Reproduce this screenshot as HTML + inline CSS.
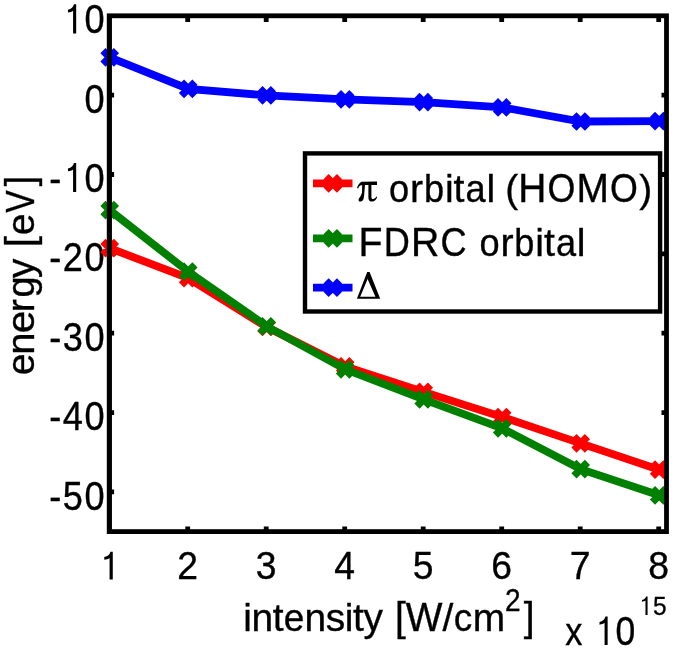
<!DOCTYPE html>
<html><head><meta charset="utf-8"><style>
html,body{margin:0;padding:0;background:#fff;}
svg{display:block;will-change:transform;}
text{font-family:"Liberation Sans",sans-serif;font-size:39.3px;fill:#000;font-kerning:none;stroke:#000;stroke-width:0.35px;}
text.s{font-family:"Liberation Serif",serif;}
</style></head><body>
<svg width="675" height="650" viewBox="0 0 675 650">
<rect width="675" height="650" fill="#fff"/>
<path d="M187.70 531.6V526.50M187.70 15.8V22.10M266.20 531.6V526.50M266.20 15.8V22.10M344.70 531.6V526.50M344.70 15.8V22.10M423.20 531.6V526.50M423.20 15.8V22.10M501.70 531.6V526.50M501.70 15.8V22.10M580.20 531.6V526.50M580.20 15.8V22.10M658.70 531.6V526.50M658.70 15.8V22.10M109.2 95.15H114.10M666.5 95.15H661.50M109.2 174.51H114.10M666.5 174.51H661.50M109.2 253.86H114.10M666.5 253.86H661.50M109.2 333.22H114.10M666.5 333.22H661.50M109.2 412.57H114.10M666.5 412.57H661.50M109.2 491.92H114.10M666.5 491.92H661.50" stroke="#000" stroke-width="4.8" fill="none"/>
<g transform="translate(72.71,33.40) scale(0.92,1.05) translate(-72.71,-33.40)"><path transform="translate(61.79,33.40) scale(39.30)" d="M0.288 0L0.374 0L0.374 -0.704L0.312 -0.704C0.292 -0.635 0.24 -0.585 0.146 -0.572L0.146 -0.505C0.2 -0.51 0.255 -0.525 0.288 -0.55Z"/></g><text x="83.64" y="33.40" transform="translate(94.57,33.40) scale(0.92,1.05) translate(-94.57,-33.40)">0</text>
<text x="83.64" y="112.75" transform="translate(94.57,112.75) scale(0.92,1.05) translate(-94.57,-112.75)">0</text>
<text x="48.70" y="192.11" transform="translate(55.24,192.11) scale(0.92,1.05) translate(-55.24,-192.11)">-</text><g transform="translate(72.71,192.11) scale(0.92,1.05) translate(-72.71,-192.11)"><path transform="translate(61.79,192.11) scale(39.30)" d="M0.288 0L0.374 0L0.374 -0.704L0.312 -0.704C0.292 -0.635 0.24 -0.585 0.146 -0.572L0.146 -0.505C0.2 -0.51 0.255 -0.525 0.288 -0.55Z"/></g><text x="83.64" y="192.11" transform="translate(94.57,192.11) scale(0.92,1.05) translate(-94.57,-192.11)">0</text>
<text x="48.70" y="271.46" transform="translate(55.24,271.46) scale(0.92,1.05) translate(-55.24,-271.46)">-</text><text x="61.79" y="271.46" transform="translate(72.71,271.46) scale(0.92,1.05) translate(-72.71,-271.46)">2</text><text x="83.64" y="271.46" transform="translate(94.57,271.46) scale(0.92,1.05) translate(-94.57,-271.46)">0</text>
<text x="48.70" y="350.82" transform="translate(55.24,350.82) scale(0.92,1.05) translate(-55.24,-350.82)">-</text><text x="61.79" y="350.82" transform="translate(72.71,350.82) scale(0.92,1.05) translate(-72.71,-350.82)">3</text><text x="83.64" y="350.82" transform="translate(94.57,350.82) scale(0.92,1.05) translate(-94.57,-350.82)">0</text>
<text x="48.70" y="430.17" transform="translate(55.24,430.17) scale(0.92,1.05) translate(-55.24,-430.17)">-</text><text x="61.79" y="430.17" transform="translate(72.71,430.17) scale(0.92,1.05) translate(-72.71,-430.17)">4</text><text x="83.64" y="430.17" transform="translate(94.57,430.17) scale(0.92,1.05) translate(-94.57,-430.17)">0</text>
<text x="48.70" y="509.52" transform="translate(55.24,509.52) scale(0.92,1.05) translate(-55.24,-509.52)">-</text><text x="61.79" y="509.52" transform="translate(72.71,509.52) scale(0.92,1.05) translate(-72.71,-509.52)">5</text><text x="83.64" y="509.52" transform="translate(94.57,509.52) scale(0.92,1.05) translate(-94.57,-509.52)">0</text>
<g transform="translate(109.20,579.50) scale(0.95,1.0) translate(-109.20,-579.50)"><path transform="translate(98.27,579.50) scale(39.30)" d="M0.288 0L0.374 0L0.374 -0.704L0.312 -0.704C0.292 -0.635 0.24 -0.585 0.146 -0.572L0.146 -0.505C0.2 -0.51 0.255 -0.525 0.288 -0.55Z"/></g>
<text x="176.77" y="579.50" transform="translate(187.70,579.50) scale(0.95,1.0) translate(-187.70,-579.50)">2</text>
<text x="255.27" y="579.50" transform="translate(266.20,579.50) scale(0.95,1.0) translate(-266.20,-579.50)">3</text>
<text x="333.77" y="579.50" transform="translate(344.70,579.50) scale(0.95,1.0) translate(-344.70,-579.50)">4</text>
<text x="412.27" y="579.50" transform="translate(423.20,579.50) scale(0.95,1.0) translate(-423.20,-579.50)">5</text>
<text x="490.77" y="579.50" transform="translate(501.70,579.50) scale(0.95,1.0) translate(-501.70,-579.50)">6</text>
<text x="569.27" y="579.50" transform="translate(580.20,579.50) scale(0.95,1.0) translate(-580.20,-579.50)">7</text>
<text x="647.77" y="579.50" transform="translate(658.70,579.50) scale(0.95,1.0) translate(-658.70,-579.50)">8</text>
<polyline points="109.70,248.20 188.20,278.10 266.70,327.00 345.20,366.40 423.70,391.90 502.20,417.00 580.70,443.40 659.20,469.70" fill="none" stroke="#ff0000" stroke-width="7.8" stroke-linejoin="miter"/>
<path d="M102.95 241.45L116.45 254.95M116.45 241.45L102.95 254.95M181.45 271.35L194.95 284.85M194.95 271.35L181.45 284.85M259.95 320.25L273.45 333.75M273.45 320.25L259.95 333.75M338.45 359.65L351.95 373.15M351.95 359.65L338.45 373.15M416.95 385.15L430.45 398.65M430.45 385.15L416.95 398.65M495.45 410.25L508.95 423.75M508.95 410.25L495.45 423.75M573.95 436.65L587.45 450.15M587.45 436.65L573.95 450.15M652.45 462.95L665.95 476.45M665.95 462.95L652.45 476.45" stroke="#ff0000" stroke-width="7.3" fill="none"/>
<polyline points="109.70,210.10 188.20,271.70 266.70,326.30 345.20,369.30 423.70,399.40 502.20,428.30 580.70,469.20 659.20,495.30" fill="none" stroke="#008000" stroke-width="7.8" stroke-linejoin="miter"/>
<path d="M102.95 203.35L116.45 216.85M116.45 203.35L102.95 216.85M181.45 264.95L194.95 278.45M194.95 264.95L181.45 278.45M259.95 319.55L273.45 333.05M273.45 319.55L259.95 333.05M338.45 362.55L351.95 376.05M351.95 362.55L338.45 376.05M416.95 392.65L430.45 406.15M430.45 392.65L416.95 406.15M495.45 421.55L508.95 435.05M508.95 421.55L495.45 435.05M573.95 462.45L587.45 475.95M587.45 462.45L573.95 475.95M652.45 488.55L665.95 502.05M665.95 488.55L652.45 502.05" stroke="#008000" stroke-width="7.3" fill="none"/>
<polyline points="109.70,57.30 188.20,88.90 266.70,95.40 345.20,99.40 423.70,102.20 502.20,107.35 580.70,121.50 659.20,121.20" fill="none" stroke="#0000ff" stroke-width="7.8" stroke-linejoin="miter"/>
<path d="M102.95 50.55L116.45 64.05M116.45 50.55L102.95 64.05M181.45 82.15L194.95 95.65M194.95 82.15L181.45 95.65M259.95 88.65L273.45 102.15M273.45 88.65L259.95 102.15M338.45 92.65L351.95 106.15M351.95 92.65L338.45 106.15M416.95 95.45L430.45 108.95M430.45 95.45L416.95 108.95M495.45 100.60L508.95 114.10M508.95 100.60L495.45 114.10M573.95 114.75L587.45 128.25M587.45 114.75L573.95 128.25M652.45 114.45L665.95 127.95M665.95 114.45L652.45 127.95" stroke="#0000ff" stroke-width="7.3" fill="none"/>
<rect x="109.2" y="15.8" width="557.3" height="515.8000000000001" fill="none" stroke="#000" stroke-width="4.8"/>
<line x1="109.45" y1="17.8" x2="109.45" y2="529.6" stroke="#000" stroke-width="4.8"/>
<text x="243.30" y="631.30" style="font-size:38.9px" transform="translate(247.62,631.30) scale(1.0,0.985) translate(-247.62,-631.30)">i</text><text x="251.56" y="631.30" style="font-size:38.9px" transform="translate(262.38,631.30) scale(1.0,0.985) translate(-262.38,-631.30)">n</text><text x="272.82" y="631.30" style="font-size:38.9px" transform="translate(278.22,631.30) scale(1.0,0.985) translate(-278.22,-631.30)">t</text><text x="283.24" y="631.30" style="font-size:38.9px" transform="translate(294.06,631.30) scale(0.95,0.985) translate(-294.06,-631.30)">e</text><text x="304.50" y="631.30" style="font-size:38.9px" transform="translate(315.32,631.30) scale(1.0,0.985) translate(-315.32,-631.30)">n</text><text x="325.75" y="631.30" style="font-size:38.9px" transform="translate(335.48,631.30) scale(1.0,0.985) translate(-335.48,-631.30)">s</text><text x="344.82" y="631.30" style="font-size:38.9px" transform="translate(349.14,631.30) scale(1.0,0.985) translate(-349.14,-631.30)">i</text><text x="353.09" y="631.30" style="font-size:38.9px" transform="translate(358.49,631.30) scale(1.0,0.985) translate(-358.49,-631.30)">t</text><text x="363.51" y="631.30" style="font-size:38.9px" transform="translate(373.24,631.30) scale(1.0,0.985) translate(-373.24,-631.30)">y</text>
<text x="395.00" y="631.30" style="font-size:38.9px" transform="translate(400.40,631.30) scale(1.0,1.0599999999999998) translate(-400.40,-631.30)">[</text><text x="405.81" y="631.30" style="font-size:38.9px" transform="translate(424.17,631.30) scale(1.0,1.045) translate(-424.17,-631.30)">W</text><text x="442.52" y="631.30" style="font-size:38.9px" transform="translate(447.93,631.30) scale(1.0,0.985) translate(-447.93,-631.30)">/</text><text x="453.33" y="631.30" style="font-size:38.9px" transform="translate(463.06,631.30) scale(0.95,0.985) translate(-463.06,-631.30)">c</text><text x="472.78" y="631.30" style="font-size:38.9px" transform="translate(488.98,631.30) scale(1.0,0.985) translate(-488.98,-631.30)">m</text>
<text x="504.7" y="611.3" style="font-size:29.5px" transform="translate(512.9,611.3) scale(0.95,1.04) translate(-512.9,-611.3)">2</text><text x="523.70" y="631.30" style="font-size:38.9px" transform="translate(529.10,631.30) scale(1.0,1.0599999999999998) translate(-529.10,-631.30)">]</text>
<g transform="translate(33.9,376.0) rotate(-90)"><text x="0" y="0" style="font-size:38.76px" transform="translate(0.64,0.00) scale(1.006,0.985)">e</text><text x="0" y="0" style="font-size:38.76px" transform="translate(21.24,0.00) scale(1.032,0.985)">n</text><text x="0" y="0" style="font-size:38.76px" transform="translate(42.67,0.00) scale(1.050,0.985)">e</text><text x="0" y="0" style="font-size:38.76px" transform="translate(63.80,0.00) scale(1.011,0.985)">r</text><text x="0" y="0" style="font-size:38.76px" transform="translate(78.50,0.00) scale(0.981,0.985)">g</text><text x="0" y="0" style="font-size:38.76px" transform="translate(98.01,0.00) scale(0.999,0.985)">y</text><text x="0" y="0" style="font-size:38.76px" transform="translate(129.04,0.00) scale(1.000,1.045)">[</text><text x="0" y="0" style="font-size:38.76px" transform="translate(140.64,0.00) scale(1.006,0.985)">e</text><text x="0" y="0" style="font-size:38.76px" transform="translate(163.35,0.00) scale(0.866,1.045)">V</text><text x="0" y="0" style="font-size:38.76px" transform="translate(189.72,0.00) scale(0.935,1.045)">]</text></g>
<text x="564.40" y="645.10" style="font-size:38.2px" transform="translate(573.95,645.10) scale(0.9,1.03) translate(-573.95,-645.10)">x</text>
<g transform="translate(604.22,645.10) scale(0.93,1.06) translate(-604.22,-645.10)"><path transform="translate(593.60,645.10) scale(38.20)" d="M0.288 0L0.374 0L0.374 -0.704L0.312 -0.704C0.292 -0.635 0.24 -0.585 0.146 -0.572L0.146 -0.505C0.2 -0.51 0.255 -0.525 0.288 -0.55Z"/></g><text x="614.85" y="645.10" style="font-size:38.2px" transform="translate(625.47,645.10) scale(0.93,1.06) translate(-625.47,-645.10)">0</text>
<g transform="translate(645.23,614.90) scale(0.94,1.0) translate(-645.23,-614.90)"><path transform="translate(638.00,614.90) scale(26.00)" d="M0.288 0L0.374 0L0.374 -0.704L0.312 -0.704C0.292 -0.635 0.24 -0.585 0.146 -0.572L0.146 -0.505C0.2 -0.51 0.255 -0.525 0.288 -0.55Z"/></g><text x="652.46" y="614.90" style="font-size:26px" transform="translate(659.69,614.90) scale(0.94,1.0) translate(-659.69,-614.90)">5</text>
<rect x="305" y="153.4" width="355.1" height="158.1" fill="#fff" stroke="#000" stroke-width="4.4"/>
<line x1="313" y1="183.3" x2="352.5" y2="183.3" stroke="#ff0000" stroke-width="7.8"/>
<path d="M326.05 176.55L339.55 190.05M339.55 176.55L326.05 190.05" stroke="#ff0000" stroke-width="7.3" fill="none"/>
<line x1="313" y1="238.4" x2="352.5" y2="238.4" stroke="#008000" stroke-width="7.8"/>
<path d="M326.05 231.65L339.55 245.15M339.55 231.65L326.05 245.15" stroke="#008000" stroke-width="7.3" fill="none"/>
<line x1="313" y1="287.7" x2="352.5" y2="287.7" stroke="#0000ff" stroke-width="7.8"/>
<path d="M326.05 280.95L339.55 294.45M339.55 280.95L326.05 294.45" stroke="#0000ff" stroke-width="7.3" fill="none"/>
<g transform="translate(0,1.4000000000000057)"><path d="M357.0 186.6C357.8 184.5 359.0 181.5 361.5 180.3L377.0 180.0L377.0 183.5L362.5 183.6C360.0 183.8 358.8 185.0 358.2 187.0ZM362.2 183.0L365.0 183.0L364.3 192.0C364.0 195.5 363.8 199.0 361.5 199.9C359.5 200.5 358.3 199.6 358.6 198.0C359.2 196.0 361.5 194.0 362.0 191.0ZM368.4 183L371.4 183L371.4 195.0C371.5 197.3 372.3 197.8 373.5 197.5C374.8 197.0 375.8 196.0 376.6 195.0L377.2 195.6C376.5 198.0 374.5 200.2 372.0 200.2C369.5 200.2 368.4 198.5 368.4 196.0Z"/></g><text x="388.10" y="201.60" transform="translate(399.03,201.60) scale(0.92,0.985) translate(-399.03,-201.60)">o</text><text x="409.96" y="201.60" transform="translate(416.50,201.60) scale(1.0,0.985) translate(-416.50,-201.60)">r</text><text x="423.04" y="201.60" transform="translate(433.97,201.60) scale(0.92,0.985) translate(-433.97,-201.60)">b</text><text x="444.90" y="201.60" transform="translate(449.27,201.60) scale(1.0,0.985) translate(-449.27,-201.60)">i</text><text x="453.63" y="201.60" transform="translate(459.09,201.60) scale(1.0,0.985) translate(-459.09,-201.60)">t</text><text x="464.55" y="201.60" transform="translate(475.48,201.60) scale(0.92,0.985) translate(-475.48,-201.60)">a</text><text x="486.41" y="201.60" transform="translate(490.77,201.60) scale(1.0,0.985) translate(-490.77,-201.60)">l</text>
<text x="505.20" y="201.60" style="font-size:38.9px" transform="translate(511.68,201.60) scale(1.0,0.985) translate(-511.68,-201.60)">(</text><text x="518.15" y="201.60" style="font-size:38.9px" transform="translate(532.20,201.60) scale(1.0,1.045) translate(-532.20,-201.60)">H</text><text x="546.25" y="201.60" style="font-size:38.9px" transform="translate(561.38,201.60) scale(0.92,1.045) translate(-561.38,-201.60)">O</text><text x="576.50" y="201.60" style="font-size:38.9px" transform="translate(592.71,201.60) scale(1.0,1.045) translate(-592.71,-201.60)">M</text><text x="608.91" y="201.60" style="font-size:38.9px" transform="translate(624.04,201.60) scale(0.92,1.045) translate(-624.04,-201.60)">O</text><text x="639.17" y="201.60" style="font-size:38.9px" transform="translate(645.64,201.60) scale(1.0,0.985) translate(-645.64,-201.60)">)</text>
<text x="358.50" y="256.00" transform="translate(370.50,256.00) scale(1.0,1.045) translate(-370.50,-256.00)">F</text><text x="382.51" y="256.00" transform="translate(396.70,256.00) scale(0.92,1.045) translate(-396.70,-256.00)">D</text><text x="410.89" y="256.00" transform="translate(425.08,256.00) scale(1.0,1.045) translate(-425.08,-256.00)">R</text><text x="439.27" y="256.00" transform="translate(453.46,256.00) scale(0.92,1.045) translate(-453.46,-256.00)">C</text><text x="478.57" y="256.00" transform="translate(489.50,256.00) scale(0.92,0.985) translate(-489.50,-256.00)">o</text><text x="500.43" y="256.00" transform="translate(506.97,256.00) scale(1.0,0.985) translate(-506.97,-256.00)">r</text><text x="513.51" y="256.00" transform="translate(524.44,256.00) scale(0.92,0.985) translate(-524.44,-256.00)">b</text><text x="535.37" y="256.00" transform="translate(539.73,256.00) scale(1.0,0.985) translate(-539.73,-256.00)">i</text><text x="544.10" y="256.00" transform="translate(549.56,256.00) scale(1.0,0.985) translate(-549.56,-256.00)">t</text><text x="555.02" y="256.00" transform="translate(565.95,256.00) scale(0.92,0.985) translate(-565.95,-256.00)">a</text><text x="576.88" y="256.00" transform="translate(581.24,256.00) scale(1.0,0.985) translate(-581.24,-256.00)">l</text>
<path d="M367.2 272L369.6 272L380.2 298.7L356.9 298.7ZM367.6 279.0L360.2 296.7L375.4 296.7Z" fill-rule="evenodd"/>
</svg>
</body></html>
